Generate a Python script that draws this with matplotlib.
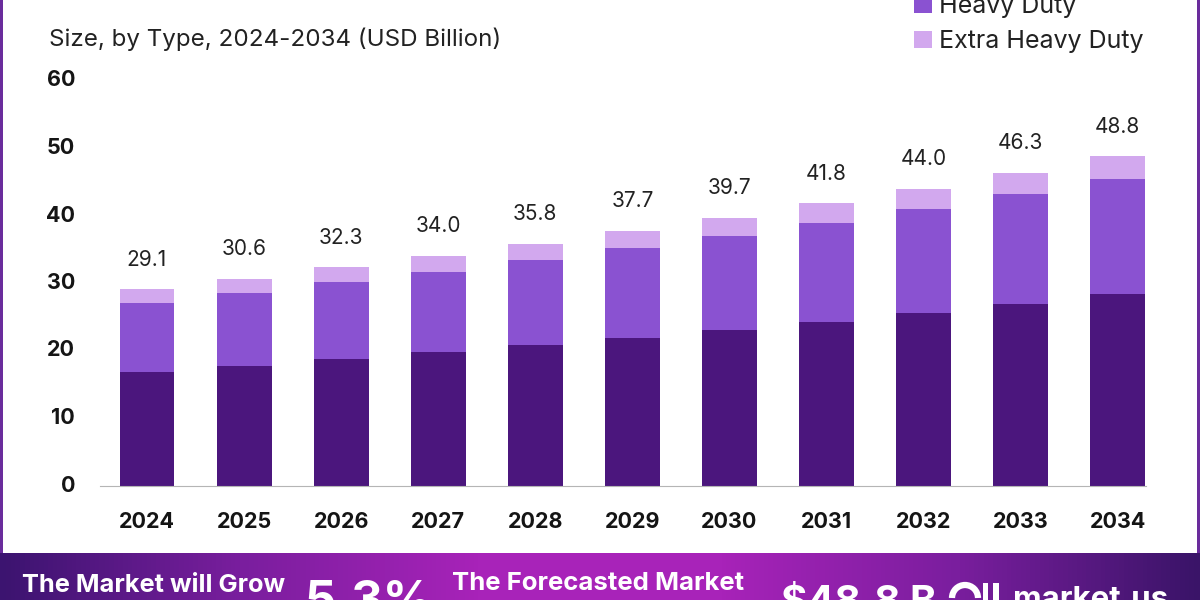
import numpy as np
import matplotlib.pyplot as plt
from matplotlib.colors import LinearSegmentedColormap
from matplotlib.patches import Arc, Rectangle
from matplotlib.transforms import ScaledTranslation

plt.rcParams['font.family'] = ['Inter', 'DejaVu Sans']

years = ['2024', '2025', '2026', '2027', '2028', '2029', '2030', '2031', '2032', '2033', '2034']
bottom_seg = [16.8, 17.7, 18.7, 19.8, 20.8, 21.9, 23.0, 24.2, 25.6, 26.9, 28.4]
heavy = [10.2, 10.8, 11.4, 11.8, 12.6, 13.3, 14.0, 14.7, 15.4, 16.3, 17.0]
extra = [2.1, 2.1, 2.2, 2.4, 2.4, 2.5, 2.7, 2.9, 3.0, 3.1, 3.4]
totals = [29.1, 30.6, 32.3, 34.0, 35.8, 37.7, 39.7, 41.8, 44.0, 46.3, 48.8]
y_ticks = [0, 10, 20, 30, 40, 50, 60]

dark = '#4b167d'
mid = '#8a52d1'
light = '#d2a8ee'

fig = plt.figure(figsize=(12, 6), dpi=100)

# background layer in pixel coords, y going down
bg = fig.add_axes([0, 0, 1, 1])
bg.axis('off')

cmap = LinearSegmentedColormap.from_list('banner', ['#3c1470', '#7a1e9e', '#a823b9', '#a823b9', '#7a1e9e', '#3a1468'])
bg.imshow(np.linspace(0, 1, 400).reshape(1, -1), extent=[0, 1200, 600, 553], cmap=cmap, aspect='auto')
bg.set_xlim(0, 1200)
bg.set_ylim(600, 0)
bg.add_patch(Rectangle((0, 0), 2.5, 553, color='#6a2c9c', lw=0))
bg.add_patch(Rectangle((1197, 0), 3, 553, color='#6a2c9c', lw=0))

bg.text(49, 39, 'Size, by Type, 2024-2034 (USD Billion)', fontsize=17.4, color='#222222', va='center')

# banner text runs off the bottom of the picture
bg.text(22, 585, 'The Market will Grow', fontsize=18.3, fontweight='bold', color='white', va='center')
bg.text(305, 603, '5.3%', fontsize=35, fontweight='bold', color='white', va='center')
bg.text(452, 583, 'The Forecasted Market', fontsize=18.5, fontweight='bold', color='white', va='center')
bg.text(781, 603, '$48.8 B', fontsize=29, fontweight='bold', color='white', va='center')
bg.text(1013, 600, 'market.us', fontsize=22.5, fontweight='bold', color='white', va='center')
bg.add_patch(Arc((965, 598), 26, 26, theta1=180, theta2=360, color='white', lw=4.5))
bg.add_patch(Rectangle((983, 583), 5, 17, color='white', lw=0))
bg.add_patch(Rectangle((993, 583), 6, 17, color='white', lw=0))

# chart axes placed on the pixel positions of the reference
ax = fig.add_axes([100 / 1200, (600 - 485.5) / 600, 1046 / 1200, 405 / 600])
ax.patch.set_alpha(0)
x = np.arange(len(years))
b1 = ax.bar(x, bottom_seg, width=0.566, color=dark)
b2 = ax.bar(x, heavy, width=0.566, bottom=bottom_seg, color=mid)
b3 = ax.bar(x, extra, width=0.566, bottom=np.add(bottom_seg, heavy), color=light)

for i, t in enumerate(totals):
    ax.text(i, t + 2.9, f'{t:.1f}', ha='center', va='bottom', fontsize=15, color='#222222')

ax.set_xlim(-0.484, 10.29)
ax.set_ylim(0, 60)
ax.set_xticks(x, years, fontsize=15.5, fontweight='bold', color='#151515')
ax.set_yticks(y_ticks, [str(v) for v in y_ticks], fontsize=15.5, fontweight='bold', color='#151515')
ax.tick_params(length=0)
ax.tick_params(axis='x', pad=19)
ax.tick_params(axis='y', pad=18)
for lab in ax.get_yticklabels():
    lab.set_transform(lab.get_transform() + ScaledTranslation(0, 2 / 100, fig.dpi_scale_trans))
for s in ['top', 'right', 'left']:
    ax.spines[s].set_visible(False)
ax.spines['bottom'].set_color('#b5b5b5')

ax.legend([b2, b3], ['Heavy Duty', 'Extra Heavy Duty'], loc='upper left',
          bbox_to_anchor=(914 / 1200, 1.009), bbox_transform=fig.transFigure,
          frameon=False, fontsize=18, handlelength=0.7, handleheight=0.7,
          handletextpad=0.3, labelspacing=0.5, labelcolor='#222222', borderaxespad=0, borderpad=0)

fig.savefig('out.png', dpi=100)
